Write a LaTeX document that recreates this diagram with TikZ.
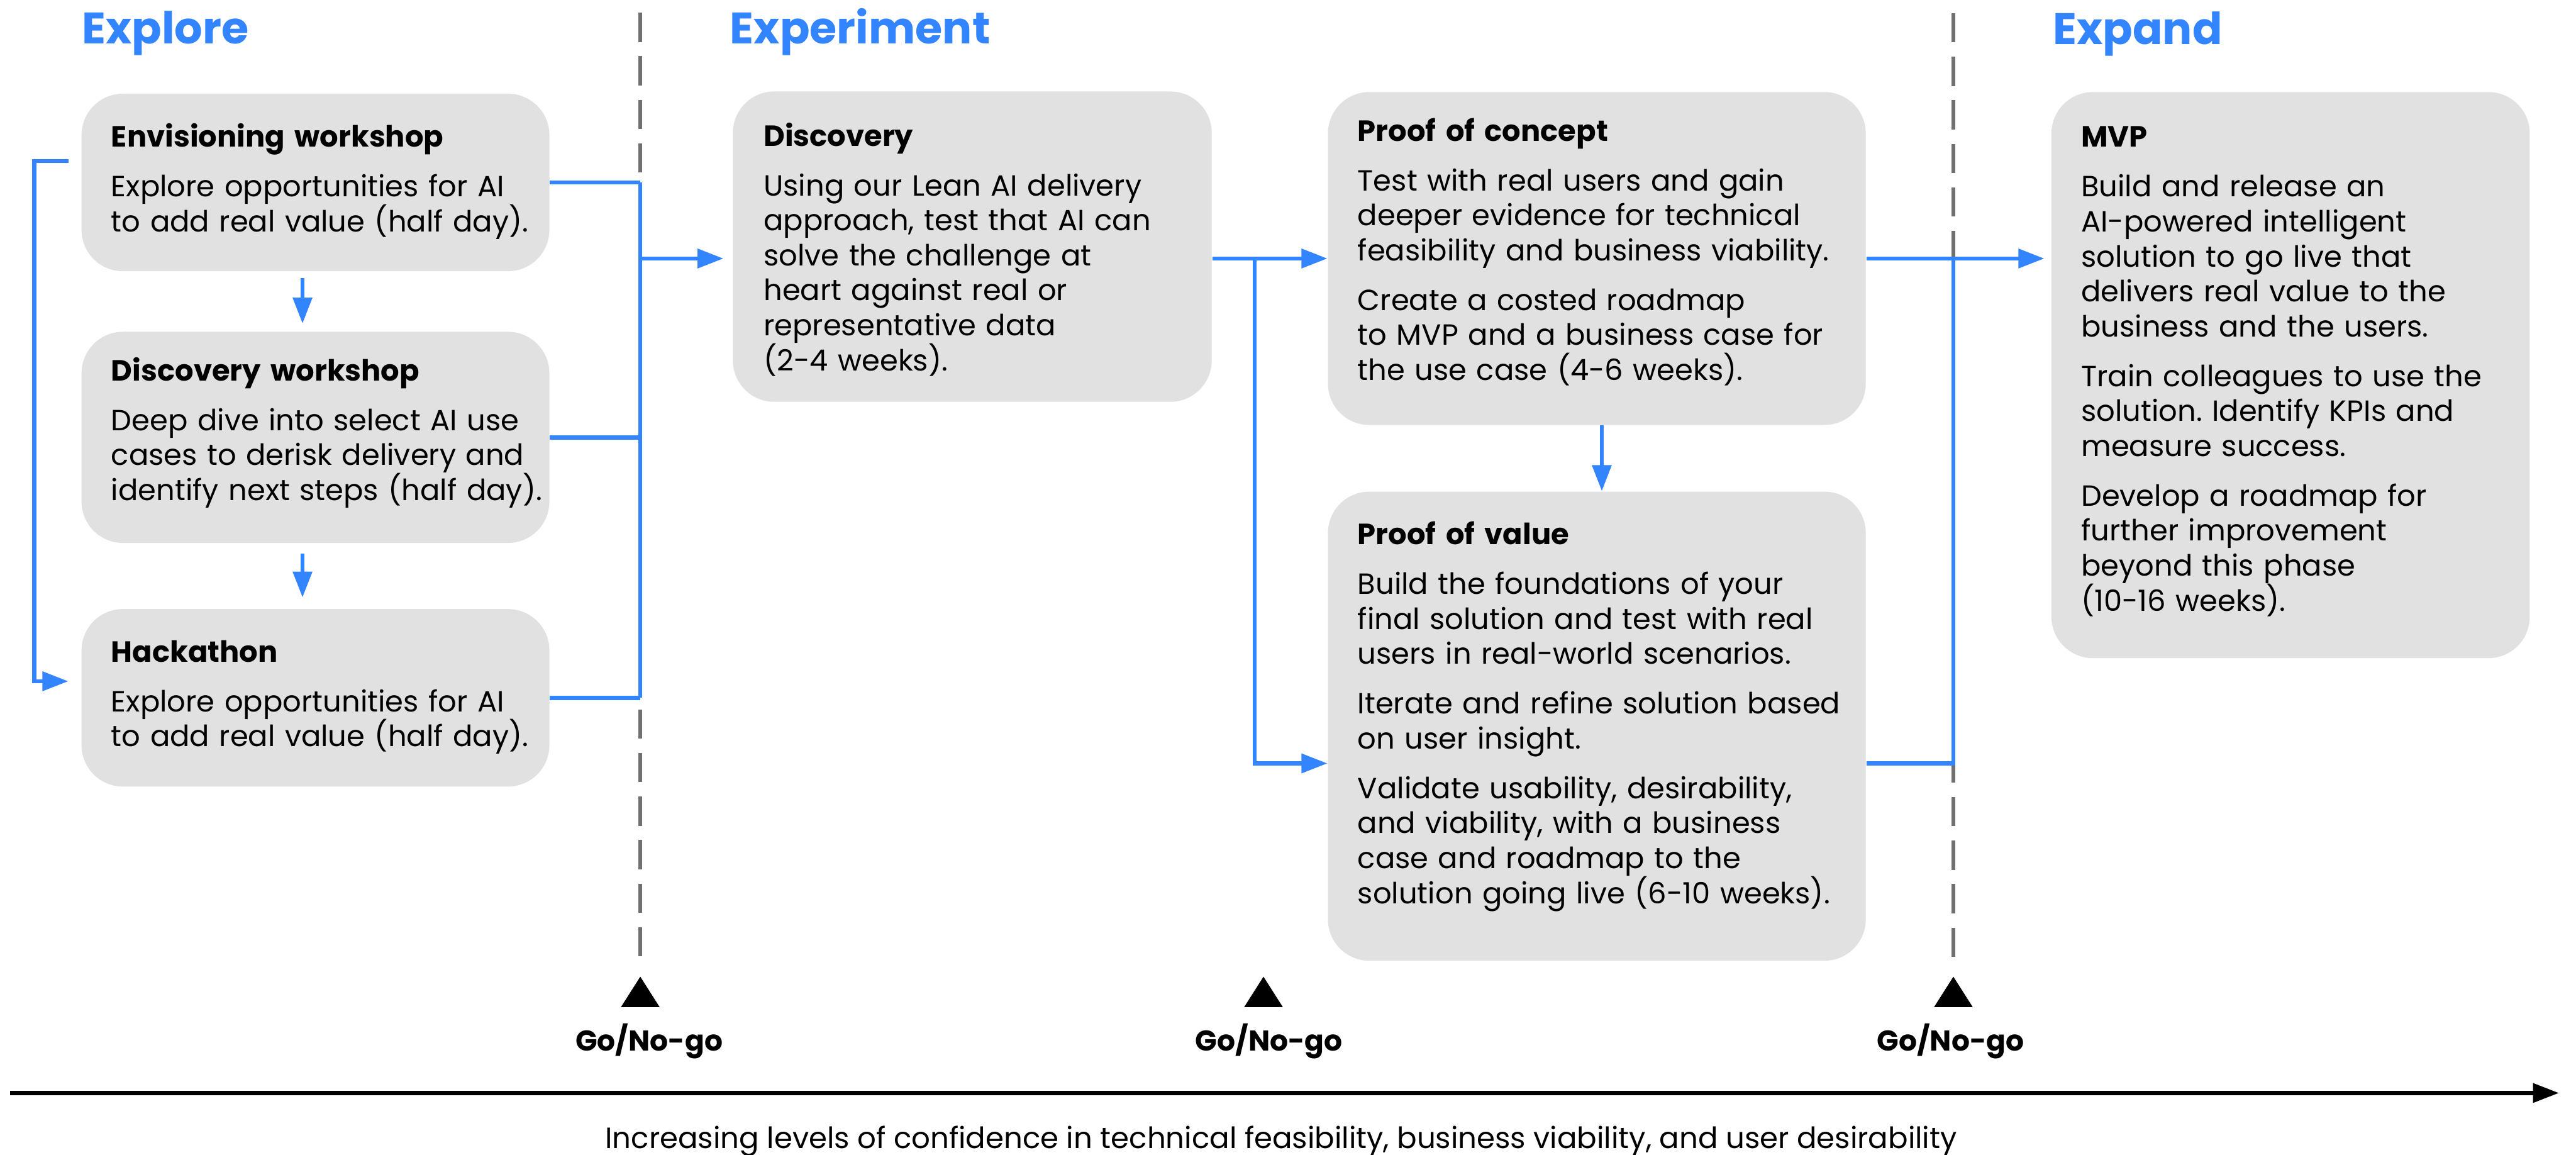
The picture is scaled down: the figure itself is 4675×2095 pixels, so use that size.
\documentclass[tikz,border=0pt]{standalone}
\usepackage{fontspec}
\setmainfont{Poppins}
\usetikzlibrary{arrows.meta,fit,calc}
\definecolor{flowblue}{RGB}{51,132,255}
\definecolor{cardgray}{RGB}{225,225,225}
\definecolor{gategray}{RGB}{112,112,112}
\frenchspacing
\begin{document}
\begin{tikzpicture}[x=0.2pt,y=-0.2pt,
  card/.style={fill=cardgray, rounded corners=15pt, inner sep=0pt, draw=none},
  cardtext/.style={anchor=base west, inner sep=0pt, align=left, text width=200pt,
    font=\fontsize{10.6}{12.7}\selectfont},
  phase/.style={anchor=base west, inner sep=0pt, text=flowblue,
    font=\fontsize{16}{19}\selectfont\bfseries},
  flow/.style={draw=flowblue, line width=1.5pt},
  flowarrow/.style={flow, -{Triangle[length=9.4pt,width=6.8pt]}},
  gate/.style={draw=gategray, line width=1.3pt, dash pattern=on 10.6pt off 5.2pt},
  decision/.style={anchor=base, inner sep=0pt,
    font=\fontsize{10.4}{12.5}\selectfont\bfseries},
  caption/.style={anchor=base, inner sep=0pt, font=\fontsize{10.65}{12.8}\selectfont},
]
\useasboundingbox (0,0) rectangle (4675,2095);

% phase headings
\node[phase] (hExplore) at (148,79) {Explore};
\node[phase] (hExperiment) at (1324,79) {Experiment};
\node[phase] (hExpand) at (3725,80) {Expand};

% go/no-go gates
\coordinate (g1top) at (1162,23);
\coordinate (g1bot) at (1162,1743);
\coordinate (g3top) at (3545,24);
\coordinate (g3bot) at (3545,1743);
\draw[gate] (g1top) -- (g1bot);
\draw[gate] (g3top) -- (g3bot);

% cards
\node[card, fit={(148,170) (997,492)}] (env) {};
\node[card, fit={(148,602) (997,985)}] (dws) {};
\node[card, fit={(148,1105) (997,1427)}] (hack) {};
\node[card, fit={(1330,166) (2199,729)}] (disc) {};
\node[card, fit={(2410,167) (3386,771)}] (poc) {};
\node[card, fit={(2410,892) (3386,1743)}] (pov) {};
\node[card, fit={(3723,167) (4591,1194)}] (mvp) {};

% card texts
\node[cardtext] (envT) at (201,267) {\textbf{Envisioning workshop}\\[5.3pt]
  Explore opportunities for AI\\
  to add real value (half day).};
\node[cardtext] (dwsT) at (201,691) {\textbf{Discovery workshop}\\[5.3pt]
  Deep dive into select AI use\\
  cases to derisk delivery and\\
  identify next steps (half day).};
\node[cardtext] (hackT) at (201,1201) {\textbf{Hackathon}\\[5.3pt]
  Explore opportunities for AI\\
  to add real value (half day).};
\node[cardtext] (discT) at (1385,265) {\textbf{Discovery}\\[5.3pt]
  Using our Lean AI delivery\\
  approach, test that AI can\\
  solve the challenge at\\
  heart against real or\\
  representative data\\
  (2-4 weeks).};
\node[cardtext] (pocT) at (2463,256) {\textbf{Proof of concept}\\[5.3pt]
  Test with real users and gain\\
  deeper evidence for technical\\
  feasibility and business viability.\\[5.3pt]
  Create a costed roadmap\\
  to MVP and a business case for\\
  the use case (4-6 weeks).};
\node[cardtext] (povT) at (2463,988) {\textbf{Proof of value}\\[5.3pt]
  Build the foundations of your\\
  final solution and test with real\\
  users in real-world scenarios.\\[5.3pt]
  Iterate and refine solution based\\
  on user insight.\\[5.3pt]
  Validate usability, desirability,\\
  and viability, with a business\\
  case and roadmap to the\\
  solution going live (6-10 weeks).};
\node[cardtext] (mvpT) at (3776,267) {\textbf{MVP}\\[5.3pt]
  Build and release an\\
  AI-powered intelligent\\
  solution to go live that\\
  delivers real value to the\\
  business and the users.\\[5.3pt]
  Train colleagues to use the\\
  solution. Identify KPIs and\\
  measure success.\\[5.3pt]
  Develop a roadmap for\\
  further improvement\\
  beyond this phase\\
  (10-16 weeks).};

% explore stage: loop on the left and the downward steps
\coordinate (loopS) at (124,292);
\coordinate (loopE) at (124,1236);
\draw[flowarrow] (loopS) -- (62,292) |- (loopE);
\coordinate (dn) at (549,0);
\draw[flowarrow, shorten <=2.4pt, shorten >=2.8pt] (env.south -| dn) -- (dws.north -| dn);
\draw[flowarrow, shorten <=3.6pt, shorten >=4pt] (dws.south -| dn) -- (hack.north -| dn);

% explore stage feeds the first gate
\draw[flow] (env.east) -- (env.east -| g1top);
\draw[flow] (dws.east) -- (dws.east -| g1top);
\draw[flow] (hack.east) -- (hack.east -| g1top);
\draw[flow] (env.east -| g1top) -- (hack.east -| g1top);
\coordinate (inDisc) at (0,469);
\draw[flowarrow, shorten >=3.2pt] (g1top |- inDisc) -- (disc.west |- inDisc);

% experiment stage
\coordinate (split) at (2277,469);
\draw[flowarrow] (disc.east |- poc.west) -- (poc.west);
\coordinate (inPov) at (0,1385);
\draw[flowarrow] (split) |- (pov.west |- inPov);
\coordinate (pd) at (2907,0);
\draw[flowarrow] (poc.south -| pd) -- (pov.north -| pd);

% experiment stage feeds the last gate and the MVP
\draw[flow] (poc.east) -- (poc.east -| g3top);
\draw[flow] (pov.east |- inPov) -- (g3top |- inPov) -- (g3top |- poc.east);
\draw[flowarrow, shorten >=2.4pt] (g3top |- poc.east) -- (mvp.west |- poc.east);

% gate markers and labels
\fill (1162,1772) -- (1127,1827) -- (1197,1827) -- cycle;
\fill (2293,1772) -- (2258,1827) -- (2328,1827) -- cycle;
\fill (3545,1772) -- (3510,1827) -- (3580,1827) -- cycle;
\node[decision] (go1) at (1178,1907) {Go/No-go};
\node[decision] (go2) at (2303,1907) {Go/No-go};
\node[decision] (go3) at (3540,1907) {Go/No-go};

% confidence axis
\coordinate (axS) at (18,1983);
\coordinate (axE) at (4644,1983);
\draw[line width=1.46pt, -{Triangle[length=9.4pt,width=6.8pt]}] (axS) -- (axE);
\node[caption] (cap) at (2325,2083) {Increasing levels of confidence in technical feasibility, business viability, and user desirability};
\end{tikzpicture}
\end{document}
